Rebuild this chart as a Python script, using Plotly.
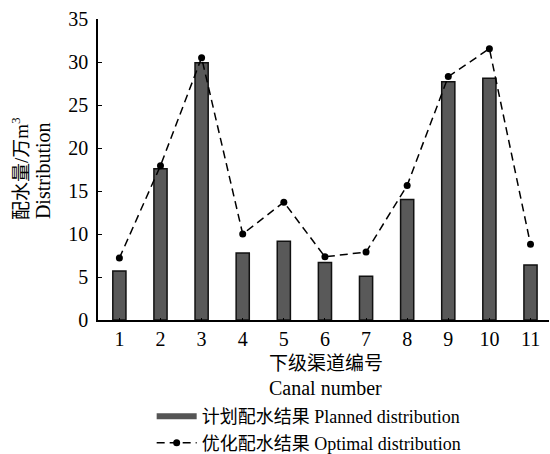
import plotly.graph_objects as go

canals = [1, 2, 3, 4, 5, 6, 7, 8, 9, 10, 11]
planned = [5.7, 17.6, 29.9, 7.8, 9.15, 6.7, 5.1, 14.0, 27.7, 28.1, 6.4]
optimal = [7.2, 17.95, 30.5, 10.0, 13.7, 7.35, 7.9, 15.65, 28.3, 31.55, 8.8]
y_ticks = [0, 5, 10, 15, 20, 25, 30, 35]

FONT = "Liberation Serif, Times New Roman, Noto Sans CJK SC, serif"

fig = go.Figure()
fig.add_trace(go.Bar(
    x=canals, y=planned, width=0.32,
    marker=dict(color="#595959", line=dict(color="#111111", width=1.5)),
    showlegend=False, name="计划配水结果 Planned distribution",
))
# legend entry for bars (wide rectangle look)
fig.add_trace(go.Scatter(
    x=[None], y=[None], mode="lines",
    line=dict(color="#555555", width=6),
    name="计划配水结果 Planned distribution",
))
fig.add_trace(go.Scatter(
    x=canals, y=optimal, mode="lines+markers",
    line=dict(color="black", width=1.5, dash="8px,5px"),
    marker=dict(color="black", size=7, symbol="circle"),
    name="优化配水结果 Optimal distribution",
))

fig.update_layout(
    width=550, height=454,
    margin=dict(l=98, r=1, t=19, b=134),
    paper_bgcolor="white", plot_bgcolor="white",
    font=dict(family=FONT, size=20, color="black"),
    showlegend=True,
    legend=dict(
        xref="paper", yref="container",
        x=0.119, y=0.123, xanchor="left", yanchor="top",
        itemwidth=40, tracegroupgap=0,
        font=dict(family=FONT, size=18, color="black"),
        bgcolor="rgba(0,0,0,0)",
    ),
    xaxis=dict(
        range=[0.48, 11.45], tickmode="array", tickvals=canals,
        ticktext=[str(c) for c in canals],
        showline=True, linecolor="black", linewidth=1.5,
        ticks="inside", ticklen=2, tickcolor="black",
        showgrid=False, zeroline=False, ticklabelstandoff=0,
        tickfont=dict(family=FONT, size=20, color="black"),
    ),
    yaxis=dict(
        range=[0, 35], tickmode="array", tickvals=y_ticks,
        showline=True, linecolor="black", linewidth=1.5,
        ticks="inside", ticklen=4, tickcolor="black",
        showgrid=False, zeroline=False, ticklabelstandoff=4,
        tickfont=dict(family=FONT, size=20, color="black"),
    ),
    annotations=[
        dict(text="配水量/万m<sup>3</sup>", xref="paper", yref="paper",
             x=-0.173, y=0.505, xanchor="center", yanchor="middle",
             textangle=-90, showarrow=False,
             font=dict(family=FONT, size=19, color="black")),
        dict(text="Distribution", xref="paper", yref="paper",
             x=-0.122, y=0.498, xanchor="center", yanchor="middle",
             textangle=-90, showarrow=False,
             font=dict(family=FONT, size=20, color="black")),
        dict(text="下级渠道编号", xref="paper", yref="paper",
             x=0.506, y=-0.143, xanchor="center", yanchor="middle",
             showarrow=False, font=dict(family=FONT, size=19, color="black")),
        dict(text="Canal number", xref="paper", yref="paper",
             x=0.504, y=-0.226, xanchor="center", yanchor="middle",
             showarrow=False, font=dict(family=FONT, size=20, color="black")),
    ],
)

fig.write_html(
    "out.html",
    config={"displayModeBar": False},
    post_script="document.body.style.margin='0px';document.body.style.overflow='hidden';",
)
